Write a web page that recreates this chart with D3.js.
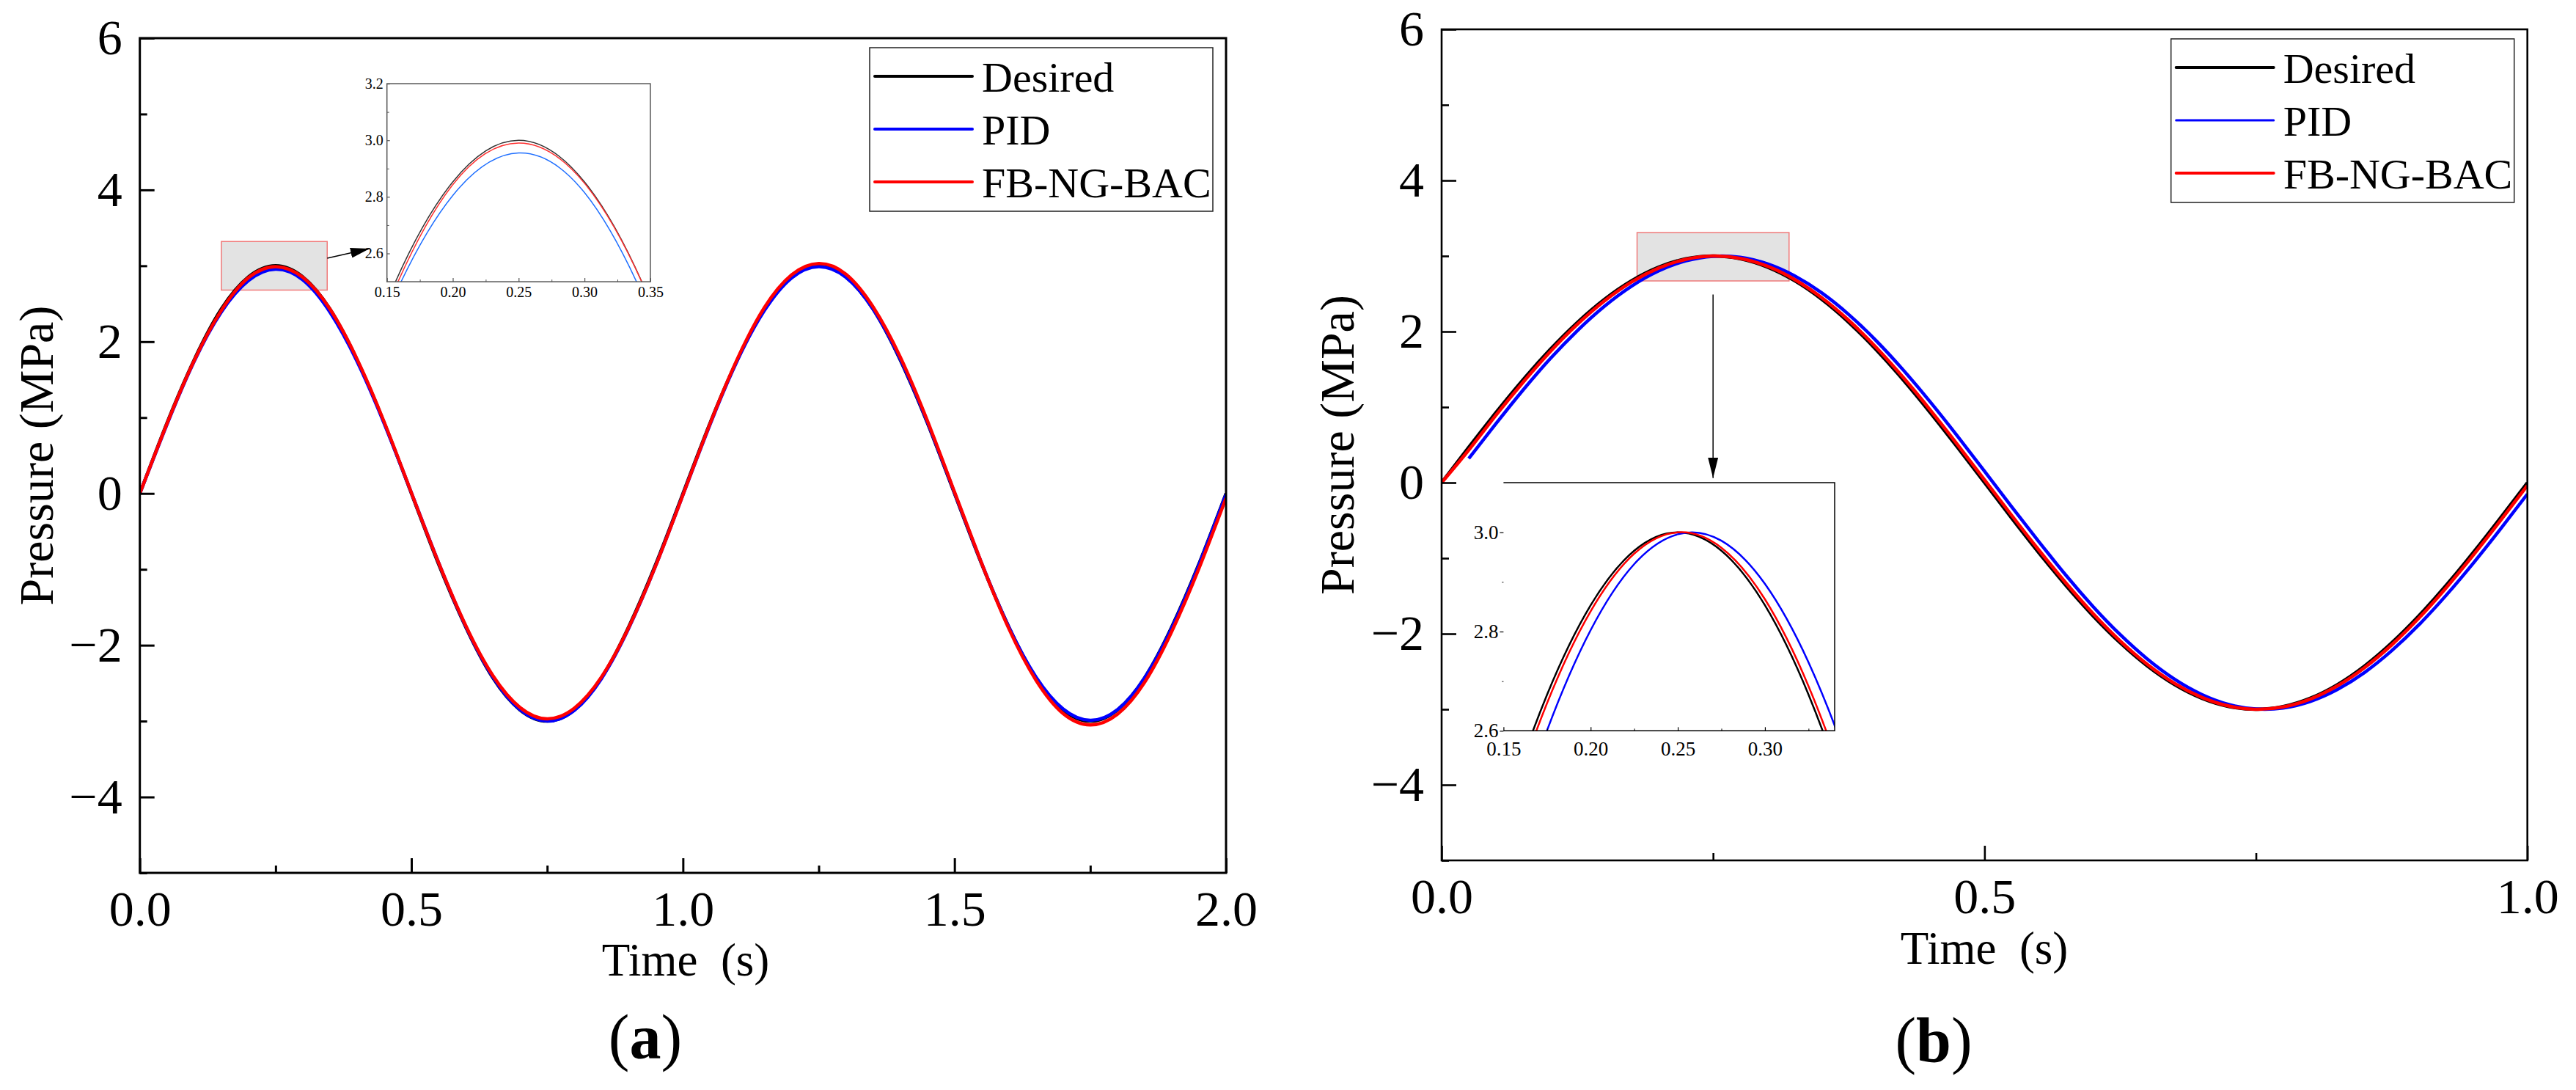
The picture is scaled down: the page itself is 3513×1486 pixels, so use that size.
<!DOCTYPE html>
<html>
<head>
<meta charset="utf-8">
<style>
  body { margin: 0; background: #fff; }
  svg { display: block; font-family: "Liberation Serif", "Times New Roman", serif; }
  svg text { font-family: "Liberation Serif", "Times New Roman", serif; }
</style>
</head>
<body>
<svg width="3513" height="1486"></svg>
<script src="https://d3js.org/d3.v7.min.js"></script>
<script>
  var seriesNames = ["Desired", "PID", "FB-NG-BAC"];

  // panel (a): 0..2 s
  var timeA = [0, 0.05, 0.1, 0.15, 0.2, 0.25, 0.3, 0.35, 0.4, 0.45,
               0.5, 0.55, 0.6, 0.65, 0.7, 0.75, 0.8, 0.85, 0.9, 0.95,
               1.0, 1.05, 1.1, 1.15, 1.2, 1.25, 1.3, 1.35, 1.4, 1.45,
               1.5, 1.55, 1.6, 1.65, 1.7, 1.75, 1.8, 1.85, 1.9, 1.95, 2.0];
  var desiredA = [0, 0.93, 1.76, 2.43, 2.853, 3.0, 2.853, 2.43, 1.76, 0.93,
                  0, -0.93, -1.76, -2.43, -2.853, -3.0, -2.853, -2.43, -1.76, -0.93,
                  0, 0.93, 1.76, 2.43, 2.853, 3.0, 2.853, 2.43, 1.76, 0.93,
                  0, -0.93, -1.76, -2.43, -2.853, -3.0, -2.853, -2.43, -1.76, -0.93, 0];
  var pidA = [0, 0.91, 1.74, 2.39, 2.805, 2.955, 2.815, 2.39, 1.74, 0.92,
              0.01, -0.91, -1.75, -2.42, -2.85, -3.0, -2.86, -2.44, -1.78, -0.95,
              -0.02, 0.91, 1.75, 2.41, 2.84, 2.99, 2.85, 2.43, 1.77, 0.94,
              0.01, -0.92, -1.76, -2.42, -2.84, -2.99, -2.85, -2.43, -1.77, -0.94, -0.01];
  var fbA = [0, 0.92, 1.75, 2.41, 2.843, 2.99, 2.848, 2.43, 1.77, 0.94,
             0.01, -0.91, -1.74, -2.40, -2.82, -2.97, -2.83, -2.42, -1.77, -0.95,
             -0.02, 0.92, 1.77, 2.45, 2.88, 3.03, 2.89, 2.46, 1.80, 0.96,
             0.02, -0.92, -1.78, -2.46, -2.90, -3.05, -2.91, -2.49, -1.82, -0.99, -0.06];

  // panel (b): 0..1 s
  var timeB = [0, 0.025, 0.05, 0.075, 0.1, 0.125, 0.15, 0.175, 0.2, 0.225,
               0.25, 0.275, 0.3, 0.325, 0.35, 0.375, 0.4, 0.425, 0.45, 0.475,
               0.5, 0.525, 0.55, 0.575, 0.6, 0.625, 0.65, 0.675, 0.7, 0.725,
               0.75, 0.775, 0.8, 0.825, 0.85, 0.875, 0.9, 0.925, 0.95, 0.975, 1.0];
  var desiredB = [0, 0.469, 0.927, 1.362, 1.763, 2.121, 2.427, 2.673, 2.853, 2.963,
                  3.0, 2.963, 2.853, 2.673, 2.427, 2.121, 1.763, 1.362, 0.927, 0.469,
                  0, -0.469, -0.927, -1.362, -1.763, -2.121, -2.427, -2.673, -2.853, -2.963,
                  -3.0, -2.963, -2.853, -2.673, -2.427, -2.121, -1.763, -1.362, -0.927, -0.469, 0];
  var pidB = [null, 0.32, 0.78, 1.226, 1.64, 2.012, 2.335, 2.601, 2.803, 2.936,
              2.996, 2.983, 2.896, 2.738, 2.513, 2.225, 1.883, 1.494, 1.069, 0.618,
              0.151, -0.32, -0.78, -1.226, -1.64, -2.012, -2.335, -2.601, -2.803, -2.936,
              -2.996, -2.983, -2.896, -2.738, -2.513, -2.225, -1.883, -1.494, -1.069, -0.618, -0.151];
  var fbB = [0, 0.432, 0.891, 1.328, 1.733, 2.095, 2.405, 2.656, 2.841, 2.957,
             3.0, 2.969, 2.865, 2.690, 2.449, 2.148, 1.794, 1.395, 0.963, 0.507,
             0.038, -0.432, -0.891, -1.328, -1.733, -2.095, -2.405, -2.656, -2.841, -2.957,
             -3.0, -2.969, -2.865, -2.690, -2.449, -2.148, -1.794, -1.395, -0.963, -0.507, -0.038];

  var yTicks = [-4, -2, 0, 2, 4, 6];
  var yMinor = [-5, -3, -1, 1, 3, 5];
  var xTicksA = [0, 0.5, 1.0, 1.5, 2.0];
  var xMinorA = [0.25, 0.75, 1.25, 1.75];
  var xTicksB = [0, 0.5, 1.0];
  var xMinorB = [0.25, 0.75];

  var insetXTicksA = [0.15, 0.20, 0.25, 0.30, 0.35];
  var insetXMinorA = [0.175, 0.225, 0.275, 0.325];
  var insetYTicksA = [2.6, 2.8, 3.0, 3.2];
  var insetYMinorA = [2.7, 2.9, 3.1];
  var insetXTicksB = [0.15, 0.20, 0.25, 0.30];
  var insetXMinorB = [0.175, 0.225, 0.275, 0.325];
  var insetYTicksB = [2.6, 2.8, 3.0];
  var insetYMinorB = [2.7, 2.9];

  var colors = {"Desired": "#000000", "PID": "#0000ff", "FB-NG-BAC": "#ff0000"};
  var font = "Liberation Serif, Times New Roman, serif";

  var svg = d3.select("svg");

  var defs = svg.append("defs");
  defs.append("marker")
      .attr("id", "headA")
      .attr("markerUnits", "userSpaceOnUse")
      .attr("markerWidth", 26).attr("markerHeight", 14)
      .attr("refX", 26).attr("refY", 7)
      .attr("orient", "auto")
    .append("path").attr("d", "M0,0L26,7L0,14Z").attr("fill", "#000");
  defs.append("marker")
      .attr("id", "headB")
      .attr("markerUnits", "userSpaceOnUse")
      .attr("markerWidth", 28).attr("markerHeight", 14)
      .attr("refX", 28).attr("refY", 7)
      .attr("orient", "auto")
    .append("path").attr("d", "M0,0L28,7L0,14Z").attr("fill", "#000");

  var panels = [
    {
      id: "a", left: 190.7, right: 1672, top: 52, bottom: 1190, frame: 3,
      time: timeA, values: [desiredA, pidA, fbA],
      xDomain: [0, 2], xTicks: xTicksA, xMinor: xMinorA,
      lineWidth: 4.5, legendWidths: [4, 4, 4],
      rect: [0.15, 0.345, 3.32, 2.68],
      arrow: [[0.345, 3.10], [0.423, 3.226]], marker: "headA",
      inset: {
        box: [0.455, 0.94, 5.40, 2.79],
        xDomain: [0.15, 0.35], yDomain: [2.5, 3.2],
        xTicks: insetXTicksA, xMinor: insetXMinorA, yTicks: insetYTicksA, yMinor: insetYMinorA,
        fontSize: 20, xPad: 7, yPad: 5, tickIn: true, leftLine: true,
        frameColor: "#555", lineWidth: 1.5,
        colors: {"Desired": "#333333", "PID": "#1f6fff", "FB-NG-BAC": "#ff3030"}
      },
      title: {yX: 72, xBase: 1330, xCenter: 935},
      caption: {x: 880, y: 1443}
    },
    {
      id: "b", left: 1966, right: 3446.7, top: 40, bottom: 1173, frame: 2.6,
      time: timeB, values: [desiredB, pidB, fbB],
      xDomain: [0, 1], xTicks: xTicksB, xMinor: xMinorB,
      lineWidth: 4.5, legendWidths: [4, 3, 4],
      rect: [0.18, 0.32, 3.31, 2.67],
      arrow: [[0.25, 2.49], [0.25, 0.06]], marker: "headB",
      inset: {
        box: [0.057, 0.362, 0, -3.285],
        xDomain: [0.15, 0.34], yDomain: [2.6, 3.1],
        xTicks: insetXTicksB, xMinor: insetXMinorB, yTicks: insetYTicksB, yMinor: insetYMinorB,
        fontSize: 27, xPad: 14, yPad: 2, tickIn: false, leftLine: false,
        frameColor: "#000", lineWidth: 2.5,
        colors: colors
      },
      title: {yX: 1846, xBase: 1314, xCenter: 2706},
      caption: {x: 2637, y: 1447}
    }
  ];

  function styleAxis(sel, size) {
    sel.attr("font-family", font).attr("font-size", size);
    sel.select(".domain").remove();
    sel.selectAll("text")
        .attr("fill", "#000")
        .attr("font-family", font)
        .attr("font-size", size);
  }

  panels.forEach(function(p) {
    var x = d3.scaleLinear().domain(p.xDomain).range([p.left, p.right]);
    var y = d3.scaleLinear().domain([-5, 6]).range([p.bottom, p.top]);
    var g = svg.append("g").attr("class", "panel-" + p.id);

    var clipId = "clip-" + p.id;
    defs.append("clipPath").attr("id", clipId)
      .append("rect")
        .attr("x", p.left).attr("y", p.top)
        .attr("width", p.right - p.left).attr("height", p.bottom - p.top);

    // highlight box around the peak
    g.append("rect")
        .attr("x", x(p.rect[0])).attr("y", y(p.rect[2]))
        .attr("width", x(p.rect[1]) - x(p.rect[0]))
        .attr("height", y(p.rect[3]) - y(p.rect[2]))
        .attr("fill", "#e3e3e3")
        .attr("stroke", "#f07a7a")
        .attr("stroke-width", 1.5);

    var rows = p.time.map(function(t, i) {
      return {t: t, v: p.values.map(function(s) { return s[i]; })};
    });

    function lineFor(k, xs, ys) {
      return d3.line()
          .defined(function(d) { return d.v[k] != null; })
          .x(function(d) { return xs(d.t); })
          .y(function(d) { return ys(d.v[k]); })
          .curve(d3.curveNatural);
    }

    var curves = g.append("g").attr("clip-path", "url(#" + clipId + ")");
    seriesNames.forEach(function(name, k) {
      curves.append("path")
          .datum(rows)
          .attr("fill", "none")
          .attr("stroke", colors[name])
          .attr("stroke-width", p.lineWidth)
          .attr("stroke-linejoin", "round")
          .attr("d", lineFor(k, x, y));
    });

    // frame
    g.append("rect")
        .attr("x", p.left).attr("y", p.top)
        .attr("width", p.right - p.left).attr("height", p.bottom - p.top)
        .attr("fill", "none").attr("stroke", "#000").attr("stroke-width", p.frame);

    g.append("g")
        .attr("transform", "translate(0," + p.bottom + ")")
        .call(d3.axisBottom(x).tickValues(p.xTicks).tickSizeInner(-20).tickSizeOuter(0)
          .tickPadding(24).tickFormat(d3.format(".1f")))
        .call(styleAxis, 68)
        .selectAll("line").attr("stroke-width", p.frame);
    g.append("g")
        .attr("transform", "translate(0," + p.bottom + ")")
        .call(d3.axisBottom(x).tickValues(p.xMinor).tickSizeInner(-10).tickSizeOuter(0).tickFormat(""))
        .call(styleAxis, 68)
        .selectAll("line").attr("stroke-width", p.frame);
    g.append("g")
        .attr("transform", "translate(" + p.left + ",0)")
        .call(d3.axisLeft(y).tickValues(yTicks).tickSizeInner(-20).tickSizeOuter(0)
          .tickPadding(24).tickFormat(d3.format("d")))
        .call(styleAxis, 68)
        .selectAll("line").attr("stroke-width", p.frame);
    g.append("g")
        .attr("transform", "translate(" + p.left + ",0)")
        .call(d3.axisLeft(y).tickValues(yMinor).tickSizeInner(-10).tickSizeOuter(0).tickFormat(""))
        .call(styleAxis, 68)
        .selectAll("line").attr("stroke-width", p.frame);

    // pointer from box to inset
    g.append("line")
        .attr("x1", x(p.arrow[0][0])).attr("y1", y(p.arrow[0][1]))
        .attr("x2", x(p.arrow[1][0])).attr("y2", y(p.arrow[1][1]))
        .attr("stroke", "#000").attr("stroke-width", 1.5)
        .attr("marker-end", "url(#" + p.marker + ")");

    // inset
    var ins = p.inset;
    var bx0 = x(ins.box[0]), bx1 = x(ins.box[1]), by0 = y(ins.box[2]), by1 = y(ins.box[3]);
    var ix = d3.scaleLinear().domain(ins.xDomain).range([bx0, bx1]);
    var iy = d3.scaleLinear().domain(ins.yDomain).range([by1, by0]);
    var ig = g.append("g").attr("class", "inset");

    ig.append("rect")
        .attr("x", bx0).attr("y", by0).attr("width", bx1 - bx0).attr("height", by1 - by0)
        .attr("fill", "#fff");

    var iclip = "iclip-" + p.id;
    defs.append("clipPath").attr("id", iclip)
      .append("rect").attr("x", bx0).attr("y", by0).attr("width", bx1 - bx0).attr("height", by1 - by0);

    var icurves = ig.append("g").attr("clip-path", "url(#" + iclip + ")");
    seriesNames.forEach(function(name, k) {
      icurves.append("path")
          .datum(rows)
          .attr("fill", "none")
          .attr("stroke", ins.colors[name])
          .attr("stroke-width", ins.lineWidth)
          .attr("d", lineFor(k, ix, iy));
    });

    if (ins.leftLine) {
      ig.append("rect")
          .attr("x", bx0).attr("y", by0).attr("width", bx1 - bx0).attr("height", by1 - by0)
          .attr("fill", "none").attr("stroke", ins.frameColor).attr("stroke-width", 1.5);
    } else {
      ig.append("path")
          .attr("d", "M" + bx0 + "," + by0 + "H" + bx1 + "V" + by1 + "H" + bx0)
          .attr("fill", "none").attr("stroke", ins.frameColor).attr("stroke-width", 1.5);
    }

    ig.append("g")
        .attr("transform", "translate(0," + by1 + ")")
        .call(d3.axisBottom(ix).tickValues(ins.xTicks).tickSizeInner(-5).tickSizeOuter(0)
          .tickPadding(ins.xPad).tickFormat(d3.format(".2f")))
        .call(styleAxis, ins.fontSize)
        .selectAll("line").attr("stroke", ins.frameColor).attr("stroke-width", 1.2);
    ig.append("g")
        .attr("transform", "translate(0," + by1 + ")")
        .call(d3.axisBottom(ix).tickValues(ins.xMinor).tickSizeInner(-3).tickSizeOuter(0).tickFormat(""))
        .call(styleAxis, ins.fontSize)
        .selectAll("line").attr("stroke", ins.frameColor).attr("stroke-width", 1);
    ig.append("g")
        .attr("transform", "translate(" + bx0 + ",0)")
        .call(d3.axisLeft(iy).tickValues(ins.yTicks).tickSizeInner(ins.tickIn ? -4 : 5).tickSizeOuter(0)
          .tickPadding(ins.yPad).tickFormat(d3.format(".1f")))
        .call(styleAxis, ins.fontSize)
        .selectAll("line").attr("stroke", ins.frameColor).attr("stroke-width", 1.2);
    ig.append("g")
        .attr("transform", "translate(" + bx0 + ",0)")
        .call(d3.axisLeft(iy).tickValues(ins.yMinor).tickSizeInner(ins.tickIn ? -3 : 2).tickSizeOuter(0).tickFormat(""))
        .call(styleAxis, ins.fontSize)
        .selectAll("line").attr("stroke", ins.frameColor).attr("stroke-width", 1);

    // legend
    var lw = 468, lh = 223;
    var lg = g.append("g").attr("transform", "translate(" + (p.right - 18 - lw) + "," + (p.top + 13) + ")");
    lg.append("rect")
        .attr("width", lw).attr("height", lh)
        .attr("fill", "#fff").attr("stroke", "#222").attr("stroke-width", 1.5);
    var ly = d3.scalePoint().domain(seriesNames).range([39, 183]);
    seriesNames.forEach(function(name, k) {
      lg.append("line")
          .attr("x1", 7).attr("x2", 140)
          .attr("y1", ly(name)).attr("y2", ly(name))
          .attr("stroke", colors[name]).attr("stroke-width", p.legendWidths[k])
          .attr("stroke-linecap", "round");
      lg.append("text")
          .attr("x", 153).attr("y", ly(name)).attr("dy", "0.36em")
          .attr("font-family", font).attr("font-size", 58)
          .text(name);
    });

    // axis titles
    g.append("text")
        .attr("transform", "translate(" + p.title.yX + "," + ((p.top + p.bottom) / 2) + ") rotate(-90)")
        .attr("text-anchor", "middle")
        .attr("font-family", font).attr("font-size", 66)
        .text("Pressure (MPa)");
    g.append("text")
        .attr("x", p.title.xCenter).attr("y", p.title.xBase)
        .attr("text-anchor", "middle")
        .attr("font-family", font).attr("font-size", 63)
        .style("white-space", "pre")
        .text("Time  (s)");

    var cap = g.append("text")
        .attr("x", p.caption.x).attr("y", p.caption.y)
        .attr("text-anchor", "middle")
        .attr("font-family", font).attr("font-size", 86);
    cap.append("tspan").text("(");
    cap.append("tspan").attr("font-weight", "bold").text(p.id);
    cap.append("tspan").text(")");
  });
</script>
</body>
</html>
